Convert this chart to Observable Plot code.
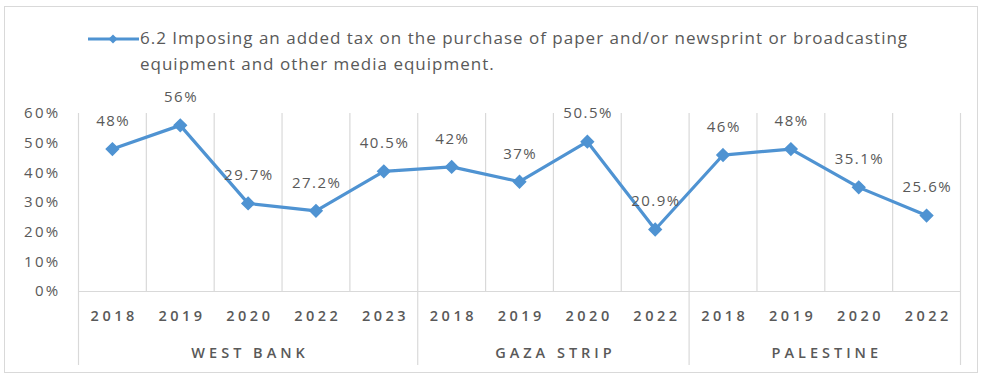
<!DOCTYPE html>
<html>
<head>
<meta charset="utf-8">
<script src="https://cdn.jsdelivr.net/npm/d3@7"></script>
<script src="https://cdn.jsdelivr.net/npm/@observablehq/plot@0.6"></script>
<style>
  html, body { margin: 0; padding: 0; background: #fff; }
  #wrap { position: relative; width: 984px; height: 377px; overflow: hidden; background: #fff; font-family: "Open Sans", sans-serif; }
  #frame { position: absolute; left: 4px; top: 6px; width: 974px; height: 367px; border: 1px solid #d9d9d9; box-sizing: border-box; }
  #legend { position: absolute; left: 86px; top: 26px; }
  #legend svg { position: absolute; left: 0; top: 6px; }
  #legend .txt { position: absolute; left: 54px; top: -1px; width: 900px; font-size: 17px; letter-spacing: 1px; line-height: 26px; color: #595959; white-space: nowrap; }
  #chart { position: absolute; left: 0; top: 0; }
</style>
</head>
<body>
<div id="wrap">
  <div id="frame"></div>
  <div id="chart"></div>
  <div id="legend"></div>
</div>
<script>
const seriesName = "6.2 Imposing an added tax on the purchase of paper and/or newsprint or broadcasting equipment and other media equipment.";
const legendLines = ["6.2 Imposing an added tax on the purchase of paper and/or newsprint or broadcasting", "equipment and other media equipment."];
const years = ["2018", "2019", "2020", "2022", "2023", "2018", "2019", "2020", "2022", "2018", "2019", "2020", "2022"];
const regions = ["WEST BANK", "WEST BANK", "WEST BANK", "WEST BANK", "WEST BANK", "GAZA STRIP", "GAZA STRIP", "GAZA STRIP", "GAZA STRIP", "PALESTINE", "PALESTINE", "PALESTINE", "PALESTINE"];
const values = [48, 56, 29.7, 27.2, 40.5, 42, 37, 50.5, 20.9, 46, 48, 35.1, 25.6];
const yTicks = [0, 10, 20, 30, 40, 50, 60];

const blue = "#4f93d2";
const grey = "#595959";
const gridColor = "#d9d9d9";
const n = values.length;

const rows = values.map((v, i) => ({ pos: i + 0.5, v, year: years[i], region: regions[i] }));

// region groups
const groups = [];
regions.forEach((r, i) => {
  const last = groups[groups.length - 1];
  if (last && last.name === r) last.end = i + 1;
  else groups.push({ name: r, start: i, end: i + 1 });
});
groups.forEach(g => g.mid = (g.start + g.end) / 2);
const boundaries = [0, ...groups.map(g => g.end)];

const chart = Plot.plot({
  width: 984,
  height: 377,
  marginLeft: 78,
  marginRight: 24,
  marginTop: 113,
  marginBottom: 86,
  style: { background: "transparent", fontFamily: "Open Sans, sans-serif" },
  x: { domain: [0, n], axis: null },
  y: { domain: [0, 60], axis: null },
  marks: [
    Plot.ruleX(d3.range(n + 1), { y1: 0, y2: 60, stroke: gridColor, strokeWidth: 1.2 }),
    Plot.ruleX(boundaries, { y1: 0, y2: 0, insetBottom: -74, stroke: gridColor, strokeWidth: 1.2 }),
    Plot.ruleY([0], { stroke: gridColor, strokeWidth: 1.2 }),
    Plot.axisY({ ticks: yTicks, tickSize: 0, tickPadding: 18, label: null, tickFormat: d => d + "%", fontSize: 15, fill: grey }),
    Plot.line(rows, { x: "pos", y: "v", stroke: blue, strokeWidth: 3.2 }),
    Plot.dot(rows, { x: "pos", y: "v", symbol: "diamond2", r: 5.5, fill: blue, stroke: blue }),
    Plot.text(rows, { x: "pos", y: "v", text: d => d.v + "%", dy: -28, dx: 0.75, fontSize: 15, fill: grey }),
    Plot.text(rows, { x: "pos", y: 0, text: "year", dy: 25, dx: 1.75, fontSize: 14.5, fontWeight: 600, fill: grey }),
    Plot.text(groups, { x: "mid", y: 0, text: "name", dy: 62, dx: 2, fontSize: 14.5, fontWeight: 600, fill: grey })
  ]
});
document.getElementById("chart").appendChild(chart);

// letter spacing (Excel-like rendering)
const yearSet = new Set(years), regionSet = new Set(regions);
const tickSet = new Set(yTicks.map(d => d + "%"));
const valueSet = new Set(values.map(d => d + "%"));
d3.select(chart).selectAll("text").each(function () {
  const t = this.textContent;
  let ls = null;
  if (yearSet.has(t)) ls = "3.5px";
  else if (regionSet.has(t)) ls = "4px";
  else if (tickSet.has(t)) ls = "2.3px";
  else if (valueSet.has(t)) ls = "1.5px";
  if (ls) { this.style.letterSpacing = ls; this.setAttribute("letter-spacing", ls); }
});

// legend
const legend = document.getElementById("legend");
legend.innerHTML = `<svg width="54" height="14"><line x1="2" y1="7" x2="53" y2="7" stroke="${blue}" stroke-width="3.2"/><path d="M27,2.5 L31.5,7 L27,11.5 L22.5,7 Z" fill="${blue}"/></svg>`;
const txt = document.createElement("div");
txt.className = "txt";
txt.setAttribute("title", seriesName);
txt.innerHTML = legendLines.map(l => `<div>${l}</div>`).join("");
legend.appendChild(txt);
</script>
</body>
</html>
